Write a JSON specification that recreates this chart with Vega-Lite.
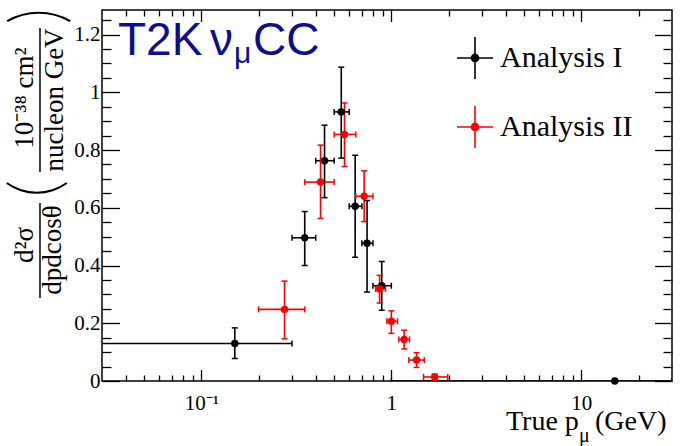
{
  "$schema": "https://vega.github.io/schema/vega-lite/v6.json",
  "width": 570,
  "height": 371,
  "autosize": {"type": "none"},
  "padding": {"left": 102, "top": 10, "right": 9, "bottom": 65},
  "background": "white",
  "config": {
    "view": {"stroke": "#000000", "strokeWidth": 1.5},
    "axis": {"grid": false, "domain": false, "tickColor": "#000000", "tickWidth": 1.3}
  },
  "datasets": {
    "points": [
      {"series": "Analysis I", "p": 0.15, "p_lo": 0.01, "p_hi": 0.3, "v": 0.13, "v_lo": 0.078, "v_hi": 0.184},
      {"series": "Analysis I", "p": 0.35, "p_lo": 0.3, "p_hi": 0.4, "v": 0.496, "v_lo": 0.4, "v_hi": 0.587},
      {"series": "Analysis I", "p": 0.445, "p_lo": 0.4, "p_hi": 0.5, "v": 0.763, "v_lo": 0.635, "v_hi": 0.886},
      {"series": "Analysis I", "p": 0.545, "p_lo": 0.5, "p_hi": 0.6, "v": 0.932, "v_lo": 0.772, "v_hi": 1.087},
      {"series": "Analysis I", "p": 0.645, "p_lo": 0.6, "p_hi": 0.7, "v": 0.605, "v_lo": 0.429, "v_hi": 0.782},
      {"series": "Analysis I", "p": 0.745, "p_lo": 0.7, "p_hi": 0.8, "v": 0.477, "v_lo": 0.308, "v_hi": 0.625},
      {"series": "Analysis I", "p": 0.89, "p_lo": 0.8, "p_hi": 1.0, "v": 0.33, "v_lo": 0.245, "v_hi": 0.414},
      {"series": "Analysis I", "p": 15, "p_lo": 1.0, "p_hi": 30, "v": 0.0, "v_lo": 0.0, "v_hi": 0.002},
      {"series": "Analysis II", "p": 0.274, "p_lo": 0.2, "p_hi": 0.35, "v": 0.248, "v_lo": 0.146, "v_hi": 0.346},
      {"series": "Analysis II", "p": 0.424, "p_lo": 0.35, "p_hi": 0.5, "v": 0.689, "v_lo": 0.563, "v_hi": 0.817},
      {"series": "Analysis II", "p": 0.567, "p_lo": 0.5, "p_hi": 0.65, "v": 0.854, "v_lo": 0.743, "v_hi": 0.963},
      {"series": "Analysis II", "p": 0.719, "p_lo": 0.65, "p_hi": 0.8, "v": 0.64, "v_lo": 0.552, "v_hi": 0.728},
      {"series": "Analysis II", "p": 0.867, "p_lo": 0.826, "p_hi": 0.932, "v": 0.319, "v_lo": 0.27, "v_hi": 0.366},
      {"series": "Analysis II", "p": 1.0, "p_lo": 0.947, "p_hi": 1.078, "v": 0.207, "v_lo": 0.165, "v_hi": 0.243},
      {"series": "Analysis II", "p": 1.168, "p_lo": 1.095, "p_hi": 1.247, "v": 0.144, "v_lo": 0.111, "v_hi": 0.176},
      {"series": "Analysis II", "p": 1.357, "p_lo": 1.236, "p_hi": 1.49, "v": 0.0725, "v_lo": 0.047, "v_hi": 0.098},
      {"series": "Analysis II", "p": 1.69, "p_lo": 1.477, "p_hi": 1.98, "v": 0.014, "v_lo": 0.004, "v_hi": 0.024}
    ],
    "headline": [
      {"t": "T2K", "x": 0.0364, "y": 1.129},
      {"t": "ν", "x": 0.111, "y": 1.129},
      {"t": "CC", "x": 0.187, "y": 1.129}
    ],
    "headline_sub": [
      {"t": "μ", "x": 0.1486, "y": 1.1015}
    ],
    "xtitle": [
      {"t": "True p", "x": 4.01, "y": -0.17},
      {"t": "(GeV)", "x": 11.8, "y": -0.17}
    ],
    "xtitle_sub": [
      {"t": "μ", "x": 9.72, "y": -0.21}
    ],
    "ytitle": [
      {"t": "d²σ", "x": 0.013, "y": 0.471},
      {"t": "dpdcosθ", "x": 0.01826, "y": 0.4538},
      {"t": "10⁻³⁸ cm²", "x": 0.013, "y": 0.9802},
      {"t": "nucleon GeV", "x": 0.0187, "y": 0.9733}
    ],
    "ytitle_bars": [
      {"x": 0.01415, "y": 0.6166, "y2": 0.2875},
      {"x": 0.01415, "y": 1.2227, "y2": 0.7239}
    ],
    "paren_top": [{"x": 0.01393, "y": 1.0561}],
    "paren_bottom": [{"x": 0.0136, "y": 0.8296}]
  },
  "resolve": {"axis": {"x": "independent", "y": "independent"}},
  "layer": [
    {
      "data": {"name": "points"},
      "mark": {"type": "rule", "strokeWidth": 1.6, "clip": true},
      "encoding": {
        "x": {
          "field": "p_lo", "type": "quantitative",
          "scale": {"type": "log", "domain": [0.03, 30], "nice": false},
          "axis": {
            "orient": "bottom", "values": [0.1, 1, 10], "title": null,
            "labelExpr": "datum.value < 0.5 ? '10⁻¹' : datum.value < 5 ? '1' : '10'",
            "tickSize": -11.5, "labelPadding": 22.5,
            "labelFont": "Liberation Serif", "labelFontSize": 21, "labelColor": "#000000",
            "labelFlush": false, "labelOverlap": false
          }
        },
        "x2": {"field": "p_hi"},
        "y": {
          "field": "v", "type": "quantitative",
          "scale": {"domain": [0, 1.285], "nice": false, "zero": false},
          "axis": {
            "orient": "left", "values": [0, 0.2, 0.4, 0.6, 0.8, 1, 1.2], "format": "~g", "title": null,
            "tickSize": -17.5, "labelPadding": 19.5,
            "labelFont": "Liberation Serif", "labelFontSize": 21, "labelColor": "#000000",
            "labelFlush": false, "labelOverlap": false
          }
        },
        "color": {
          "field": "series", "type": "nominal",
          "scale": {"domain": ["Analysis I", "Analysis II"], "range": ["#000000", "#ff0000"]},
          "legend": {
            "title": null, "orient": "none", "legendX": 354, "legendY": 29,
            "symbolType": "M-1,0H1M0,-1.17V1.17M0.2,0A0.2,0.2,0,1,1,-0.2,0A0.2,0.2,0,1,1,0.2,0Z",
            "symbolSize": 1296, "symbolStrokeWidth": 1.6, "symbolOpacity": 1,
            "labelFont": "Liberation Serif", "labelFontSize": 30, "labelColor": "#000000",
            "labelOffset": 6, "labelLimit": 300, "rowPadding": 19, "padding": 0,
            "encode": {
              "symbols": {
                "update": {
                  "stroke": {"scale": "color", "field": "value"},
                  "fill": {"scale": "color", "field": "value"}
                }
              }
            }
          }
        }
      }
    },
    {
      "data": {"name": "points"},
      "mark": {"type": "rule", "strokeWidth": 1.6},
      "encoding": {
        "x": {
          "field": "p", "type": "quantitative",
          "axis": {
            "orient": "bottom", "title": null, "labels": false, "tickSize": -6,
            "values": [0.04, 0.05, 0.06, 0.07, 0.08, 0.09, 0.2, 0.3, 0.4, 0.5, 0.6, 0.7, 0.8, 0.9, 2, 3, 4, 5, 6, 7, 8, 9, 20]
          }
        },
        "y": {
          "field": "v_lo", "type": "quantitative",
          "axis": {
            "orient": "left", "title": null, "labels": false, "tickSize": -9,
            "values": [0.05, 0.1, 0.15, 0.25, 0.3, 0.35, 0.45, 0.5, 0.55, 0.65, 0.7, 0.75, 0.85, 0.9, 0.95, 1.05, 1.1, 1.15, 1.25]
          }
        },
        "y2": {"field": "v_hi"},
        "color": {"field": "series", "type": "nominal"}
      }
    },
    {
      "data": {"name": "points"},
      "transform": [{"fold": ["p_lo", "p_hi"], "as": ["end", "pe"]}],
      "mark": {"type": "tick", "orient": "vertical", "size": 6, "thickness": 1.5, "opacity": 1, "clip": true},
      "encoding": {
        "x": {
          "field": "pe", "type": "quantitative",
          "axis": {"orient": "top", "title": null, "labels": false, "tickSize": -11.5, "values": [0.1, 1, 10]}
        },
        "y": {
          "field": "v", "type": "quantitative",
          "axis": {"orient": "right", "title": null, "labels": false, "tickSize": -17.5, "values": [0, 0.2, 0.4, 0.6, 0.8, 1, 1.2]}
        },
        "color": {"field": "series", "type": "nominal"}
      }
    },
    {
      "data": {"name": "points"},
      "transform": [{"fold": ["v_lo", "v_hi"], "as": ["end", "ve"]}],
      "mark": {"type": "tick", "orient": "horizontal", "size": 6, "thickness": 1.5, "opacity": 1, "clip": true},
      "encoding": {
        "x": {
          "field": "p", "type": "quantitative",
          "axis": {
            "orient": "top", "title": null, "labels": false, "tickSize": -6,
            "values": [0.04, 0.05, 0.06, 0.07, 0.08, 0.09, 0.2, 0.3, 0.4, 0.5, 0.6, 0.7, 0.8, 0.9, 2, 3, 4, 5, 6, 7, 8, 9, 20]
          }
        },
        "y": {
          "field": "ve", "type": "quantitative",
          "axis": {
            "orient": "right", "title": null, "labels": false, "tickSize": -9,
            "values": [0.05, 0.1, 0.15, 0.25, 0.3, 0.35, 0.45, 0.5, 0.55, 0.65, 0.7, 0.75, 0.85, 0.9, 0.95, 1.05, 1.1, 1.15, 1.25]
          }
        },
        "color": {"field": "series", "type": "nominal"}
      }
    },
    {
      "data": {"name": "points"},
      "mark": {"type": "circle", "size": 55, "opacity": 1},
      "encoding": {
        "x": {"field": "p", "type": "quantitative", "axis": null},
        "y": {"field": "v", "type": "quantitative", "axis": null},
        "color": {"field": "series", "type": "nominal"}
      }
    },
    {
      "data": {"name": "headline"},
      "mark": {"type": "text", "font": "Liberation Sans", "fontSize": 46, "color": "#0d0d8f", "align": "left", "baseline": "alphabetic"},
      "encoding": {
        "x": {"field": "x", "type": "quantitative", "axis": null},
        "y": {"field": "y", "type": "quantitative", "axis": null},
        "text": {"field": "t"}
      }
    },
    {
      "data": {"name": "headline_sub"},
      "mark": {"type": "text", "font": "Liberation Sans", "fontSize": 30, "color": "#0d0d8f", "align": "left", "baseline": "alphabetic"},
      "encoding": {
        "x": {"field": "x", "type": "quantitative", "axis": null},
        "y": {"field": "y", "type": "quantitative", "axis": null},
        "text": {"field": "t"}
      }
    },
    {
      "data": {"name": "xtitle"},
      "mark": {"type": "text", "font": "Liberation Serif", "fontSize": 28, "color": "#000000", "align": "left", "baseline": "alphabetic"},
      "encoding": {
        "x": {"field": "x", "type": "quantitative", "axis": null},
        "y": {"field": "y", "type": "quantitative", "axis": null},
        "text": {"field": "t"}
      }
    },
    {
      "data": {"name": "xtitle_sub"},
      "mark": {"type": "text", "font": "Liberation Serif", "fontSize": 20, "color": "#000000", "align": "left", "baseline": "alphabetic"},
      "encoding": {
        "x": {"field": "x", "type": "quantitative", "axis": null},
        "y": {"field": "y", "type": "quantitative", "axis": null},
        "text": {"field": "t"}
      }
    },
    {
      "data": {"name": "ytitle"},
      "mark": {"type": "text", "font": "Liberation Serif", "fontSize": 27, "color": "#000000", "align": "center", "baseline": "alphabetic", "angle": 270},
      "encoding": {
        "x": {"field": "x", "type": "quantitative", "axis": null},
        "y": {"field": "y", "type": "quantitative", "axis": null},
        "text": {"field": "t"}
      }
    },
    {
      "data": {"name": "ytitle_bars"},
      "mark": {"type": "rule", "strokeWidth": 1.5, "color": "#000000"},
      "encoding": {
        "x": {"field": "x", "type": "quantitative", "axis": null},
        "y": {"field": "y", "type": "quantitative", "axis": null},
        "y2": {"field": "y2"}
      }
    },
    {
      "data": {"name": "paren_top"},
      "mark": {"type": "arc", "theta": -0.52, "theta2": 0.52, "outerRadius": 64.4, "innerRadius": 62.4, "color": "#000000"},
      "encoding": {
        "x": {"field": "x", "type": "quantitative", "axis": null},
        "y": {"field": "y", "type": "quantitative", "axis": null}
      }
    },
    {
      "data": {"name": "paren_bottom"},
      "mark": {"type": "arc", "theta": 2.515, "theta2": 3.767, "outerRadius": 52.2, "innerRadius": 50.2, "color": "#000000"},
      "encoding": {
        "x": {"field": "x", "type": "quantitative", "axis": null},
        "y": {"field": "y", "type": "quantitative", "axis": null}
      }
    }
  ]
}
